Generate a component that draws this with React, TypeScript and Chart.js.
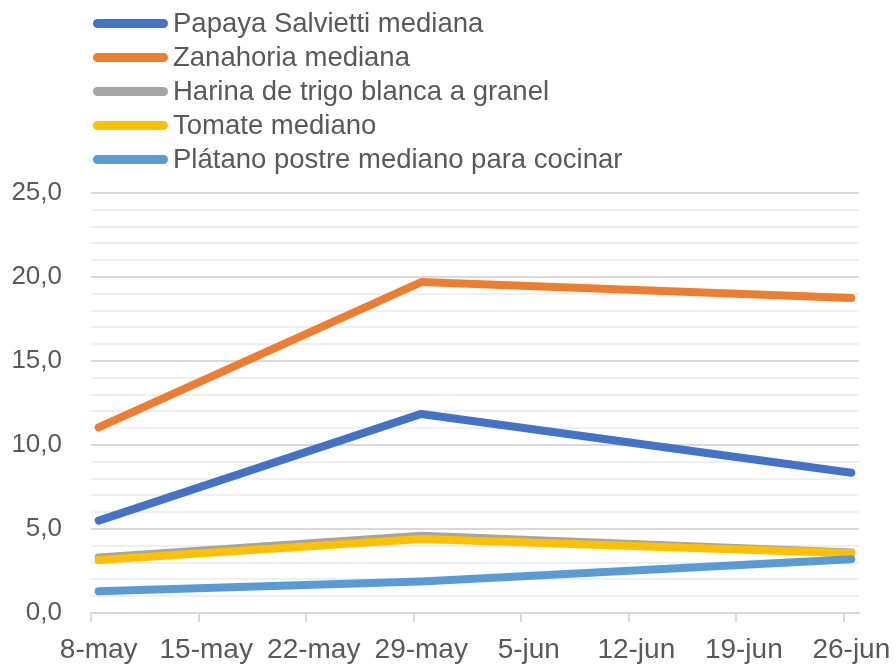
import React, { useEffect, useRef } from "react";
import { Chart, registerables } from "chart.js";

Chart.register(...registerables);

const xLabels = ["8-may", "15-may", "22-may", "29-may", "5-jun", "12-jun", "19-jun", "26-jun"];
const seriesNames = [
  "Papaya Salvietti mediana",
  "Zanahoria mediana",
  "Harina de trigo blanca a granel",
  "Tomate mediano",
  "Plátano postre mediano para cocinar",
];
const seriesColors = ["#4472C4", "#ED7D31", "#A5A5A5", "#FFC000", "#5B9BD5"];

const papaya = [5.5, null, null, 11.85, null, null, null, 8.35];
const zanahoria = [11.05, null, null, 19.7, null, null, null, 18.75];
const harina = [3.3, null, null, 4.6, null, null, null, 3.6];
const tomate = [3.15, null, null, 4.4, null, null, null, 3.55];
const platano = [1.3, null, null, 1.88, null, null, null, 3.2];
const seriesValues = [papaya, zanahoria, harina, tomate, platano];

const yTicks = [0, 1, 2, 3, 4, 5, 6, 7, 8, 9, 10, 11, 12, 13, 14, 15, 16, 17, 18, 19, 20, 21, 22, 23, 24, 25];

const FONT = "'Liberation Sans', Arial, sans-serif";
const TEXT = "#595959";

export default function App() {
  const ref = useRef<HTMLCanvasElement | null>(null);

  useEffect(() => {
    if (!ref.current) return;
    const half = 1 / 14;
    const datasets = seriesValues.map((vals, si) => ({
      label: seriesNames[si],
      data: vals
        .map((v, i) => (v == null ? null : { x: i, y: v }))
        .filter((p) => p !== null) as { x: number; y: number }[],
      borderColor: seriesColors[si],
      backgroundColor: seriesColors[si],
      borderWidth: 8,
      borderCapStyle: "round" as const,
      borderJoinStyle: "round" as const,
      pointRadius: 0,
      tension: 0,
      fill: false,
      order: seriesValues.length - si,
    }));

    const chart = new Chart(ref.current, {
      type: "line",
      data: { datasets },
      options: {
        animation: false,
        responsive: false,
        layout: { padding: { top: 193, right: 37, left: 0, bottom: 0 } },
        plugins: { legend: { display: false }, tooltip: { enabled: false } },
        scales: {
          x: {
            type: "linear",
            min: -half,
            max: xLabels.length - 1 + half,
            afterBuildTicks: (scale: any) => {
              scale.ticks = xLabels.map((_, i) => ({ value: i - half }));
            },
            afterFit: (scale: any) => {
              scale.height = 58;
            },
            ticks: {
              autoSkip: false,
              maxRotation: 0,
              minRotation: 0,
              labelOffset: 7.7,
              padding: 11,
              color: TEXT,
              font: { family: FONT, size: 28 },
              callback: (_v: any, i: number) => xLabels[i],
            },
            grid: {
              drawOnChartArea: false,
              drawTicks: true,
              tickLength: 9,
              color: "#d9d9d9",
              lineWidth: 2,
            },
            border: { display: true, color: "#d9d9d9", width: 2 },
          },
          y: {
            type: "linear",
            min: 0,
            max: 25,
            afterBuildTicks: (scale: any) => {
              scale.ticks = yTicks.map((v) => ({ value: v }));
            },
            afterFit: (scale: any) => {
              scale.width = 91;
            },
            ticks: {
              autoSkip: false,
              padding: 29,
              color: TEXT,
              font: { family: FONT, size: 26 },
              callback: (v: any) => (Number(v) % 5 === 0 ? Number(v).toFixed(1).replace(".", ",") : ""),
            },
            grid: {
              drawTicks: false,
              color: (ctx: any) => (ctx.tick && ctx.tick.value % 5 === 0 ? "#d9d9d9" : "#efefef"),
              lineWidth: 2,
            },
            border: { display: false },
          },
        },
      },
    });
    return () => chart.destroy();
  }, []);

  return (
    <div style={{ position: "absolute", left: 0, top: 0, width: 896, height: 671, background: "#fff", overflow: "hidden" }}>
      <canvas ref={ref} width={896} height={671} style={{ position: "absolute", left: 0, top: 0, display: "block" }} />
      <div style={{ position: "absolute", left: 93, top: 6, fontFamily: FONT, fontSize: 27.5, color: TEXT }}>
        {seriesNames.map((name, i) => (
          <div key={name} style={{ display: "flex", alignItems: "center", height: 34, whiteSpace: "nowrap" }}>
            <span style={{ display: "inline-block", width: 75, height: 9, borderRadius: 5, background: seriesColors[i] }} />
            <span style={{ marginLeft: 5, lineHeight: "34px" }}>{name}</span>
          </div>
        ))}
      </div>
    </div>
  );
}
